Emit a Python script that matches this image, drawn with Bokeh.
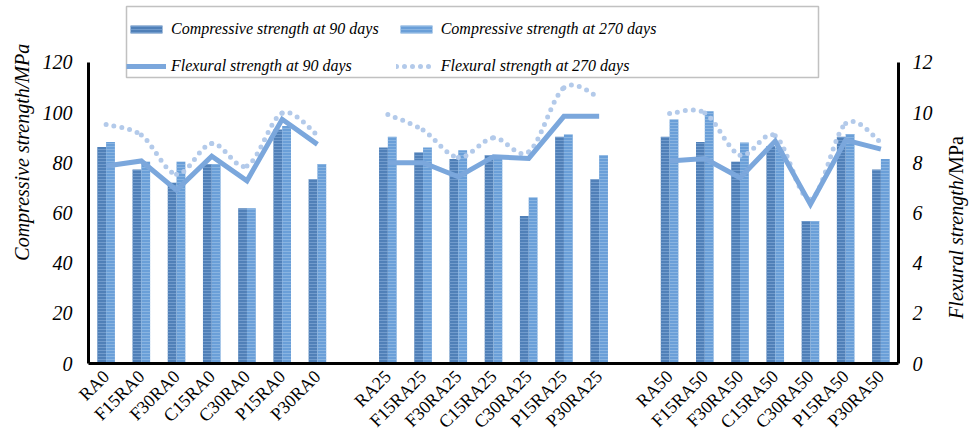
import numpy as np
from bokeh.plotting import figure
from bokeh.models import (Range1d, LinearAxis, FixedTicker, Legend, LegendItem,
                          BoxAnnotation, ColumnDataSource, Label)
from bokeh.transform import dodge
from bokeh.embed import file_html
from bokeh.resources import INLINE

# ---------------- data ----------------
categories = ["RA0", "F15RA0", "F30RA0", "C15RA0", "C30RA0", "P15RA0", "P30RA0",
              "RA25", "F15RA25", "F30RA25", "C15RA25", "C30RA25", "P15RA25", "P30RA25",
              "RA50", "F15RA50", "F30RA50", "C15RA50", "C30RA50", "P15RA50", "P30RA50"]
comp_90 = [86.3, 77.3, 72.0, 79.5, 61.9, 93.2, 73.4,
           86.1, 84.1, 81.5, 83.0, 58.8, 90.3, 73.4,
           90.3, 88.3, 80.4, 86.7, 56.8, 90.3, 77.3]
comp_270 = [88.3, 80.4, 80.4, 79.5, 61.9, 94.6, 79.5,
            90.3, 86.1, 85.0, 83.0, 66.1, 91.2, 83.0,
            97.2, 100.5, 88.1, 86.1, 56.8, 91.4, 81.5]
flex_90 = [7.87, 8.07, 6.91, 8.26, 7.28, 9.73, 8.73,
           8.00, 8.00, 7.44, 8.24, 8.17, 9.85, 9.85,
           8.07, 8.17, 7.40, 8.86, 6.34, 8.90, 8.54]
flex_270 = [9.52, 9.10, 7.54, 8.77, 7.87, 9.98, 9.10,
            9.92, 9.30, 8.21, 8.99, 8.43, 10.99, 10.60,
            9.96, 9.98, 8.30, 9.07, 6.54, 9.56, 8.81]
left_ticks = [0, 20, 40, 60, 80, 100, 120]
right_ticks = [0, 2, 4, 6, 8, 10, 12]
left_max, right_max = 120, 12
left_title = "Compressive strength/MPa"
right_title = ("Flexural strength/", "MPa")

# slot position of each category (one empty slot between groups)
group_size = 7
pos = [i + i // group_size for i in range(len(categories))]

FONT = "Liberation Serif"
C90, H90 = "#5080b8", "#8db1dc"
C270, H270 = "#6a9fd8", "#a3c4ea"
LINE90 = "#7ba7dc"
LINE270 = "#b3caea"

# layout: the plotting frame spans the full height above the x axis so the
# legend (which overlaps the top of the value area) is not clipped; the axis
# lines are limited to the value range with Axis.bounds.
W, H = 979, 442
BORDER_L, BORDER_R, BORDER_B = 88, 81, 78
AXIS_PX = 302                      # pixel height of the 0..120 span
frame_h = H - BORDER_B
y_top = left_max * frame_h / AXIS_PX

p = figure(width=W, height=H, output_backend="svg", toolbar_location=None,
           x_range=Range1d(-0.5, 22.5), y_range=Range1d(0, y_top),
           min_border_left=BORDER_L, min_border_right=BORDER_R, min_border_top=0,
           min_border_bottom=BORDER_B)
p.outline_line_color = None
p.xgrid.visible = False
p.ygrid.visible = False
p.extra_y_ranges = {"flex": Range1d(0, y_top * right_max / left_max)}

src = ColumnDataSource(dict(x=pos, c90=comp_90, c270=comp_270, cat=categories))

r_b90 = p.vbar(x=dodge("x", -0.125, range=p.x_range), top="c90", width=0.25,
               source=src, fill_color=C90, line_color=None,
               hatch_pattern="horizontal_line", hatch_color=H90,
               hatch_scale=3, hatch_weight=1, hatch_alpha=0.55)
r_b270 = p.vbar(x=dodge("x", 0.125, range=p.x_range), top="c270", width=0.25,
                source=src, fill_color=C270, line_color=None,
                hatch_pattern="horizontal_line", hatch_color=H270,
                hatch_scale=3, hatch_weight=1, hatch_alpha=0.55)

line90_renderers = []
line270_renderers = []
for g in range(3):
    xs = pos[g * group_size:(g + 1) * group_size]
    f90 = flex_90[g * group_size:(g + 1) * group_size]
    f270 = flex_270[g * group_size:(g + 1) * group_size]
    # smoothed (Catmull-Rom style) Bezier segments through the 270-day points
    x0s, y0s, x1s, y1s, cx0, cy0, cx1, cy1 = [], [], [], [], [], [], [], []
    n = len(xs)
    for i in range(n - 1):
        xm, ym = (xs[i - 1], f270[i - 1]) if i > 0 else (xs[i], f270[i])
        xp, yp = (xs[i + 2], f270[i + 2]) if i + 2 < n else (xs[i + 1], f270[i + 1])
        x0s.append(xs[i]); y0s.append(f270[i])
        x1s.append(xs[i + 1]); y1s.append(f270[i + 1])
        cx0.append(xs[i] + (xs[i + 1] - xm) / 6.0)
        cy0.append(f270[i] + (f270[i + 1] - ym) / 6.0)
        cx1.append(xs[i + 1] - (xp - xs[i]) / 6.0)
        cy1.append(f270[i + 1] - (yp - f270[i]) / 6.0)
    r270 = p.bezier(x0=x0s, y0=y0s, x1=x1s, y1=y1s, cx0=cx0, cy0=cy0,
                    cx1=cx1, cy1=cy1, y_range_name="flex",
                    line_color=LINE270, line_width=5, line_dash="0 8",
                    line_cap="round")
    r90 = p.line(xs, f90, y_range_name="flex", line_color=LINE90,
                 line_width=5, line_join="miter")
    line90_renderers.append(r90)
    line270_renderers.append(r270)

# ---------------- axes ----------------
p.yaxis.ticker = FixedTicker(ticks=left_ticks)
p.yaxis.bounds = (0, left_max)
right_axis = LinearAxis(y_range_name="flex", ticker=FixedTicker(ticks=right_ticks),
                        bounds=(0, right_max))
p.add_layout(right_axis, "right")

for ax in [p.yaxis[0], right_axis]:
    ax.axis_line_color = "black"
    ax.axis_line_width = 3
    ax.major_tick_line_color = None
    ax.minor_tick_line_color = None
    ax.major_label_text_font = FONT
    ax.major_label_text_font_style = "italic"
    ax.major_label_text_font_size = "20px"
    ax.major_label_text_color = "black"
p.yaxis[0].major_label_standoff = 10
right_axis.major_label_standoff = 8

# axis titles, reading bottom-to-top
TITLE_PX = 20
common = dict(x_units="canvas", y_units="canvas", angle=np.pi / 2,
              text_align="left", text_baseline="middle", text_font=FONT,
              text_font_size=f"{TITLE_PX}px", text_color="black")

left_w = 10.916 * TITLE_PX            # Times-italic width of the left title
p.add_layout(Label(x=21, y=151 + left_w / 2, text=left_title,
                   text_font_style="italic", **common), "left")

name_w = 7.25 * TITLE_PX              # Times-italic width of "Flexural strength/"
unit_w = 1.889 * TITLE_PX             # Times width of "MPa"
y_bottom = 227 + (name_w + unit_w) / 2
p.add_layout(Label(x=955, y=y_bottom, text=right_title[0],
                   text_font_style="italic", **common), "right")
p.add_layout(Label(x=955, y=y_bottom - name_w, text=right_title[1],
                   text_font_style="normal", **common), "right")

xa = p.xaxis[0]
xa.ticker = FixedTicker(ticks=pos)
xa.major_label_overrides = {x: c for x, c in zip(pos, categories)}
xa.major_label_orientation = np.pi / 4
xa.axis_line_color = "black"
xa.axis_line_width = 3
xa.major_tick_line_color = None
xa.minor_tick_line_color = None
xa.major_label_text_font = FONT
xa.major_label_text_font_size = "18px"
xa.major_label_text_color = "black"
xa.major_label_standoff = 4

# ---------------- legend ----------------
legend = Legend(items=[
    LegendItem(label="Compressive strength at 90 days", renderers=[r_b90]),
    LegendItem(label="Compressive strength at 270 days", renderers=[r_b270]),
    LegendItem(label="Flexural strength at 90 days", renderers=[line90_renderers[0]]),
    LegendItem(label="Flexural strength at 270 days", renderers=[line270_renderers[0]]),
], ncols=2, location=(38, frame_h - 77), orientation="horizontal")
legend.label_text_font = FONT
legend.label_text_font_style = "italic"
legend.label_text_font_size = "16px"
legend.label_text_color = "black"
legend.glyph_width = 40
legend.glyph_height = 10
legend.label_standoff = 5
legend.label_width = 203
legend.label_height = 20
legend.spacing = 17
legend.padding = 7
legend.border_line_color = None
legend.background_fill_alpha = 0
p.add_layout(legend, "center")

box = BoxAnnotation(left=126, right=818, top=6, bottom=77,
                    left_units="canvas", right_units="canvas",
                    top_units="canvas", bottom_units="canvas",
                    fill_color="white", fill_alpha=1,
                    line_color="#333333", line_width=1.5, level="underlay")
p.add_layout(box)

open("out.html", "w").write(file_html(p, INLINE))
